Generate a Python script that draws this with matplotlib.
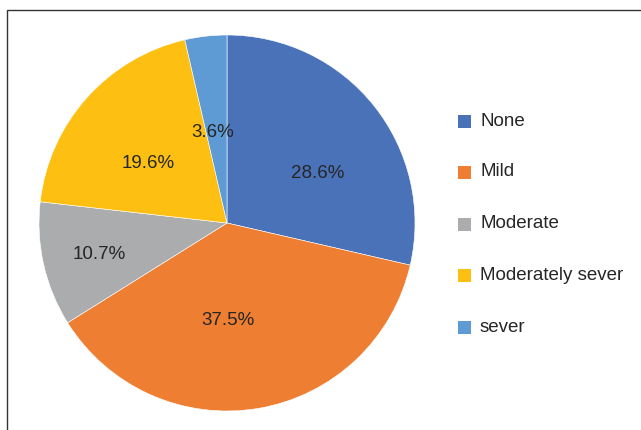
import matplotlib.pyplot as plt
from matplotlib import rcParams
from matplotlib.patches import Rectangle

rcParams['font.family'] = ['Liberation Sans', 'DejaVu Sans']

# Data
categories = ['None', 'Mild', 'Moderate', 'Moderately sever', 'sever']
percentages = [28.6, 37.5, 10.7, 19.6, 3.6]
colors = ['#4A72B8', '#EE7E32', '#ABACAE', '#FDC012', '#5E9BD5']

# label placement inside the pie (in pie units, radius = 1)
label_pos = [(0.484, 0.261), (0.005, -0.516), (-0.681, -0.165),
             (-0.418, 0.314), (-0.074, 0.479)]

W, H = 641, 430
fig = plt.figure(figsize=(W / 100, H / 100), dpi=100)

# outer frame (left and top edges visible)
frame = Rectangle((7 / W, -0.1), 1.2, (H - 10) / H + 0.1, transform=fig.transFigure,
                  fill=False, edgecolor='#333333', linewidth=1.0)
fig.patches.append(frame)

cx, cy, r = 227, 223, 188
ax = fig.add_axes([(cx - r) / W, (H - cy - r) / H, 2 * r / W, 2 * r / H])
wedges, texts, autotexts = ax.pie(
    percentages, colors=colors, startangle=90, counterclock=False,
    autopct='%1.1f%%', pctdistance=0.53,
    wedgeprops={'edgecolor': 'white', 'linewidth': 0.4},
    textprops={'fontsize': 13.5, 'color': '#262626'})
for t, pos in zip(autotexts, label_pos):
    t.set_position(pos)
ax.set_xlim(-1, 1)
ax.set_ylim(-1, 1)
ax.set_aspect('equal')

# legend
leg_y = [121, 172, 224, 275, 327]
for label, color, y in zip(categories, colors, leg_y):
    fig.patches.append(Rectangle((458 / W, (H - y - 7) / H), 13 / W, 13 / H,
                                 transform=fig.transFigure, facecolor=color,
                                 edgecolor='none'))
    fig.text(480 / W, (H - y) / H, label, fontsize=13.5, color='#262626',
             va='center', ha='left')

fig.savefig('out.png', dpi=100)
